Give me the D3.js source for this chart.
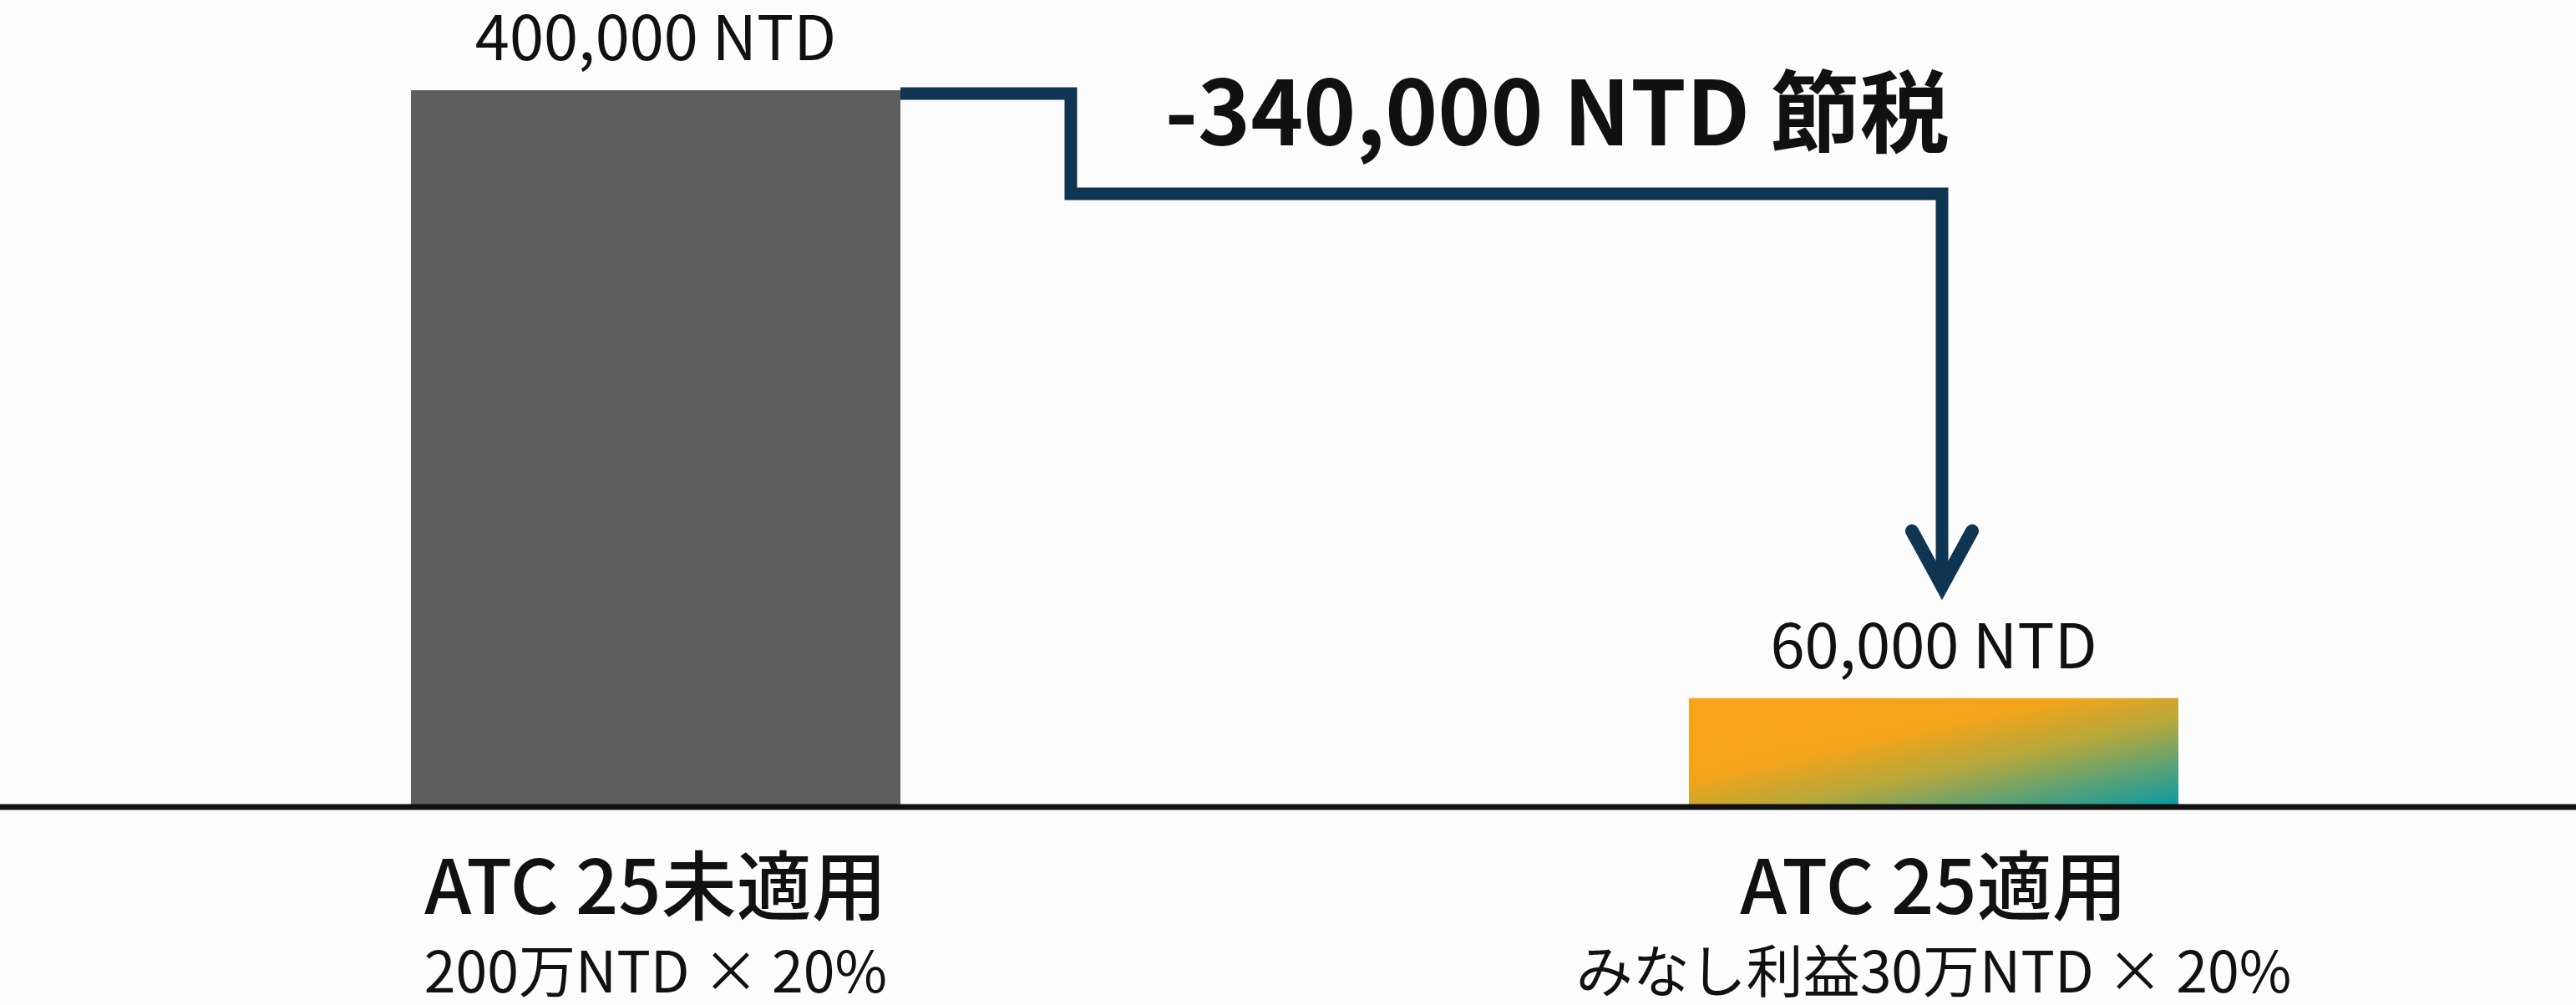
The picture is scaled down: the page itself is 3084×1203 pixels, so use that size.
<!DOCTYPE html>
<html lang="ja">
<head>
<meta charset="UTF-8">
<title>ATC 25 節税</title>
<script src="https://d3js.org/d3.v7.min.js"></script>
<style>
  html, body { margin: 0; padding: 0; background: #fdfdfd; }
  svg { display: block; }
  text { font-family: "Noto Sans CJK JP", "Noto Sans", sans-serif; fill: #111; }
</style>
</head>
<body>
<svg id="chart"></svg>
<script>
// data
const categories = ["ATC 25未適用", "ATC 25適用"];
const subLabels = ["200万NTD × 20%", "みなし利益30万NTD × 20%"];
const taxValues = [400000, 60000];
const valueLabels = ["400,000 NTD", "60,000 NTD"];
const savingLabel = "-340,000 NTD 節税";

const width = 3084, height = 1203;
const baseY = 964;

const svg = d3.select("#chart").attr("width", width).attr("height", height);

const x = d3.scaleBand()
  .domain(categories)
  .range([20, 3080])
  .paddingInner(0.617)
  .paddingOuter(0.3085);

const y = d3.scaleLinear()
  .domain([0, 400000])
  .range([baseY, 108]);

// gradient for the second bar (orange -> teal, diagonal)
const defs = svg.append("defs");
const grad = defs.append("linearGradient")
  .attr("id", "barGrad")
  .attr("x1", 0).attr("y1", 0).attr("x2", 1).attr("y2", 1);
grad.append("stop").attr("offset", "0%").attr("stop-color", "#f6a616");
grad.append("stop").attr("offset", "38%").attr("stop-color", "#f4a418");
grad.append("stop").attr("offset", "60%").attr("stop-color", "#b6a83c");
grad.append("stop").attr("offset", "80%").attr("stop-color", "#5ea274");
grad.append("stop").attr("offset", "100%").attr("stop-color", "#0a9aa2");

const fills = ["#5e5e5e", "url(#barGrad)"];

svg.selectAll("rect.bar")
  .data(taxValues)
  .join("rect")
  .attr("class", "bar")
  .attr("x", (d, i) => x(categories[i]))
  .attr("y", d => y(d))
  .attr("width", x.bandwidth())
  .attr("height", d => baseY - y(d))
  .attr("fill", (d, i) => fills[i]);

// baseline
svg.append("line")
  .attr("x1", 0).attr("x2", width)
  .attr("y1", baseY + 2).attr("y2", baseY + 2)
  .attr("stroke", "#111")
  .attr("stroke-width", 7);

// value labels
svg.selectAll("text.value")
  .data(taxValues)
  .join("text")
  .attr("class", "value")
  .attr("x", (d, i) => x(categories[i]) + x.bandwidth() / 2)
  .attr("y", d => y(d) - 36)
  .attr("text-anchor", "middle")
  .attr("font-size", 74)
  .text((d, i) => valueLabels[i]);

// category labels
svg.selectAll("text.cat")
  .data(categories)
  .join("text")
  .attr("class", "cat")
  .attr("x", d => x(d) + x.bandwidth() / 2)
  .attr("y", 1094)
  .attr("text-anchor", "middle")
  .attr("font-size", 90)
  .attr("font-weight", 500)
  .text(d => d);

svg.selectAll("text.sub")
  .data(subLabels)
  .join("text")
  .attr("class", "sub")
  .attr("x", (d, i) => x(categories[i]) + x.bandwidth() / 2)
  .attr("y", 1188)
  .attr("text-anchor", "middle")
  .attr("font-size", 68)
  .text(d => d);

// step arrow from the first bar down to the second
const x0 = x(categories[0]) + x.bandwidth();
const xStep = x0 + 204;
const xEnd = x(categories[1]) + x.bandwidth() / 2 + 10;
const yTop = y(taxValues[0]) + 4;
const yMid = 232;
const yTip = y(taxValues[1]) - 134;

const arrowColor = "#0f3552";
svg.append("path")
  .attr("d", d3.line()([[x0, yTop], [xStep, yTop], [xStep, yMid], [xEnd, yMid], [xEnd, yTip - 6]]))
  .attr("fill", "none")
  .attr("stroke", arrowColor)
  .attr("stroke-width", 15)
  .attr("stroke-linejoin", "miter");

svg.append("path")
  .attr("d", d3.line()([[xEnd - 36, yTip - 66], [xEnd, yTip], [xEnd + 36, yTip - 66]]))
  .attr("fill", "none")
  .attr("stroke", arrowColor)
  .attr("stroke-width", 16)
  .attr("stroke-linecap", "round")
  .attr("stroke-linejoin", "miter");

// saving annotation
svg.append("text")
  .attr("x", 1864)
  .attr("y", 174)
  .attr("text-anchor", "middle")
  .attr("font-size", 107)
  .attr("font-weight", 700)
  .text(savingLabel);
</script>
</body>
</html>
